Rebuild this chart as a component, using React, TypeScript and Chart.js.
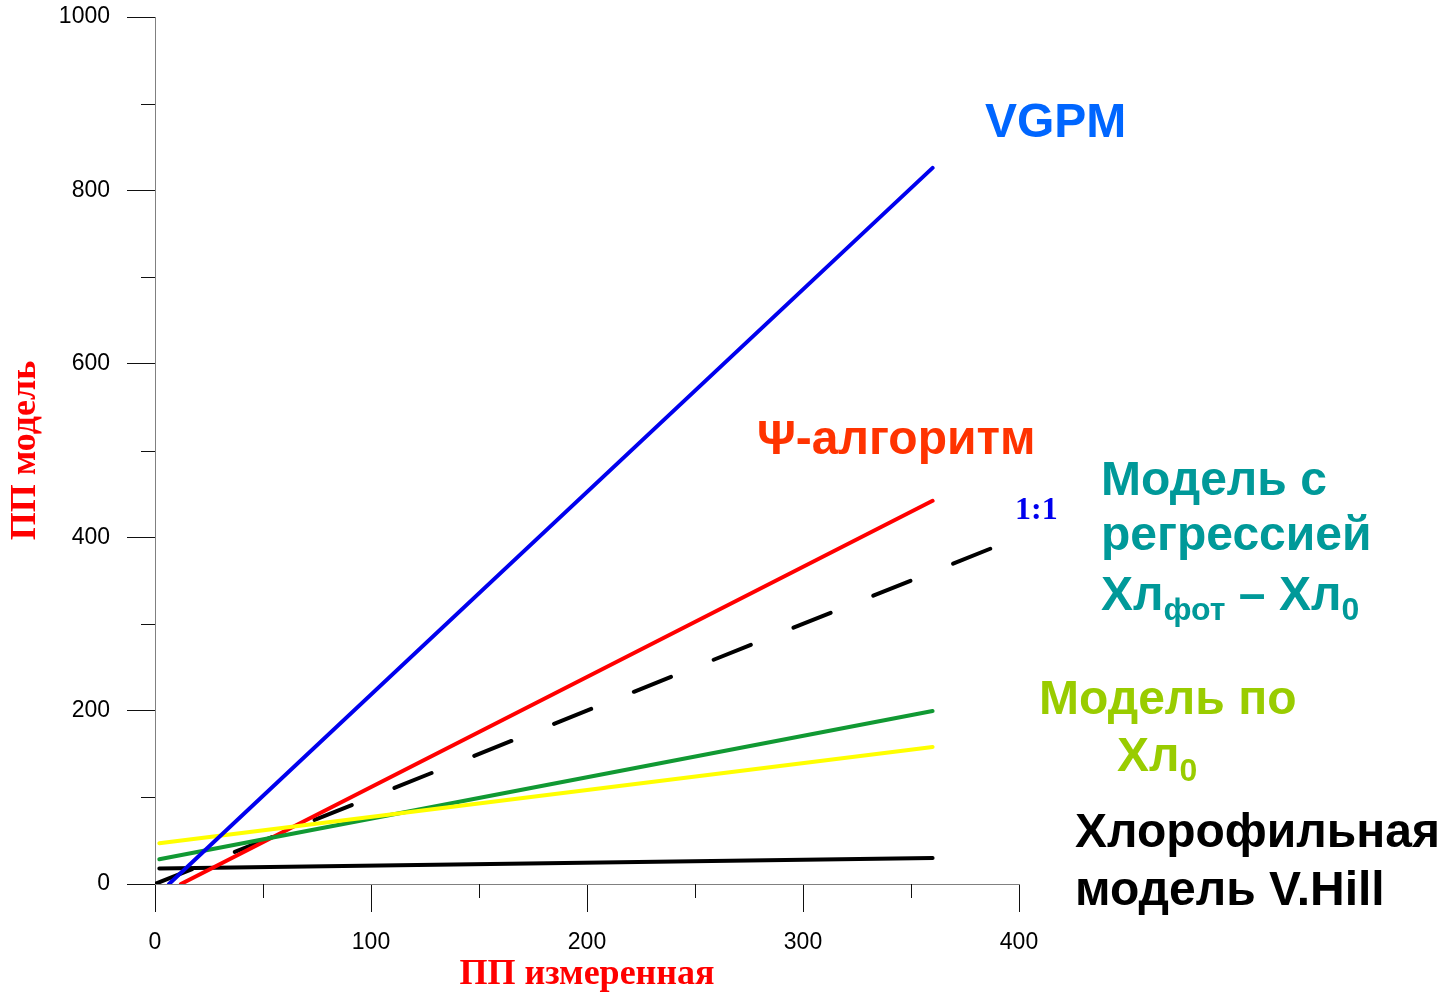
import React, { useEffect, useRef } from 'react';
import { Chart, registerables } from 'chart.js';

Chart.register(...registerables);

// ---- data ----
const xTickStep = 100;
const yTickStep = 200;
const xMin = 0, xMax = 400;
const yMin = 0, yMax = 1000;
const xMinorTicks = [50, 150, 250, 350];
const yMinorTicks = [100, 300, 500, 700, 900];

const vgpmX = [6.5, 360];
const vgpmY = [0, 826];
const psiX = [12, 360];
const psiY = [0, 442];
const regrX = [2, 360];
const regrY = [28.5, 199.5];
const chl0X = [2, 360];
const chl0Y = [47, 158];
const hillX = [2, 360];
const hillY = [18, 30];
const oneToOneX = [0, 392];
const oneToOneY = [0, 392];

const xTitle = 'ПП измеренная';
const yTitle = 'ПП модель';

const SANS = '"Liberation Sans", Arial, sans-serif';
const SERIF = '"Liberation Serif", "Times New Roman", serif';

type Seg = { text: string; sub?: boolean };
type Note = { segs: Seg[]; x: number; y: number; size: number; color: string; family: string };

const notes: Note[] = [
  { segs: [{ text: 'VGPM' }], x: 985, y: 137, size: 48, color: '#0066ff', family: SANS },
  { segs: [{ text: 'Ψ-алгоритм' }], x: 757, y: 454, size: 48, color: '#ff3300', family: SANS },
  { segs: [{ text: '1:1' }], x: 1015, y: 519, size: 32, color: '#0000ee', family: SERIF },
  { segs: [{ text: 'Модель с' }], x: 1101, y: 495, size: 48, color: '#009999', family: SANS },
  { segs: [{ text: 'регрессией' }], x: 1101, y: 550, size: 48, color: '#009999', family: SANS },
  {
    segs: [{ text: 'Хл' }, { text: 'фот', sub: true }, { text: ' – Хл' }, { text: '0', sub: true }],
    x: 1101, y: 610, size: 48, color: '#009999', family: SANS,
  },
  { segs: [{ text: 'Модель по' }], x: 1039, y: 714, size: 48, color: '#99cc00', family: SANS },
  { segs: [{ text: 'Хл' }, { text: '0', sub: true }], x: 1117, y: 771, size: 48, color: '#99cc00', family: SANS },
  { segs: [{ text: 'Хлорофильная' }], x: 1075, y: 847, size: 48, color: '#000000', family: SANS },
  { segs: [{ text: 'модель V.Hill' }], x: 1075, y: 905, size: 48, color: '#000000', family: SANS },
];

const pts = (xs: number[], ys: number[]) => xs.map((x, i) => ({ x, y: ys[i] }));

const extrasPlugin = {
  id: 'extras',
  afterDraw(chart: any) {
    const ctx = chart.ctx;
    const xs = chart.scales.x;
    const ys = chart.scales.y;
    ctx.save();
    // minor ticks
    ctx.strokeStyle = '#111';
    ctx.lineWidth = 1;
    ctx.beginPath();
    xMinorTicks.forEach((v) => {
      const px = Math.round(xs.getPixelForValue(v)) + 0.5;
      ctx.moveTo(px, ys.bottom);
      ctx.lineTo(px, ys.bottom + 14);
    });
    yMinorTicks.forEach((v) => {
      const py = Math.round(ys.getPixelForValue(v)) + 0.5;
      ctx.moveTo(xs.left - 14, py);
      ctx.lineTo(xs.left, py);
    });
    ctx.stroke();
    // annotations
    ctx.textAlign = 'left';
    ctx.textBaseline = 'alphabetic';
    notes.forEach((n) => {
      let x = n.x;
      n.segs.forEach((s) => {
        const size = s.sub ? Math.round(n.size * 0.66) : n.size;
        ctx.font = `bold ${size}px ${n.family}`;
        ctx.fillStyle = n.color;
        ctx.fillText(s.text, x, n.y + (s.sub ? Math.round(n.size * 0.2) : 0));
        x += ctx.measureText(s.text).width;
      });
    });
    ctx.restore();
  },
};

export default function App() {
  const ref = useRef<HTMLCanvasElement | null>(null);
  useEffect(() => {
    if (!ref.current) return;
    const line = (label: string, data: any, color: string, extra: any = {}) => ({
      label,
      data,
      borderColor: color,
      backgroundColor: color,
      borderWidth: 4,
      pointRadius: 0,
      showLine: true,
      fill: false,
      tension: 0,
      borderCapStyle: 'round',
      ...extra,
    });
    const chart = new Chart(ref.current, {
      type: 'scatter',
      data: {
        datasets: [
          line('VGPM', pts(vgpmX, vgpmY), '#0000ee'),
          line('Модель по Хл0', pts(chl0X, chl0Y), '#ffff00'),
          line('Модель с регрессией', pts(regrX, regrY), '#119933'),
          line('Ψ-алгоритм', pts(psiX, psiY), '#ff0000'),
          line('Хлорофильная модель V.Hill', pts(hillX, hillY), '#000000'),
          line('1:1', pts(oneToOneX, oneToOneY), '#000000', { borderDash: [40, 46], borderWidth: 4 }),
        ],
      },
      options: {
        animation: false,
        responsive: true,
        maintainAspectRatio: false,
        layout: { padding: { top: 17, right: 424, left: 0, bottom: 0 } },
        plugins: { legend: { display: false }, tooltip: { enabled: false } },
        scales: {
          x: {
            type: 'linear',
            min: xMin,
            max: xMax,
            afterFit: (s: any) => { s.height = 110; },
            ticks: { stepSize: xTickStep, color: '#000', font: { family: SANS, size: 23 }, padding: 17, maxRotation: 0, callback: (v: any) => String(v) },
            grid: { drawOnChartArea: false, drawTicks: true, tickLength: 28, color: '#111', lineWidth: 1 },
            border: { display: true, color: '#808080', width: 1 },
            title: { display: true, text: xTitle, color: '#ff0000', font: { family: SERIF, size: 36, weight: 'bold', lineHeight: 1 }, padding: { top: 0, bottom: 1 } },
          },
          y: {
            type: 'linear',
            min: yMin,
            max: yMax,
            afterFit: (s: any) => { s.width = 155; s.paddingTop = 0; s.paddingBottom = 0; },
            ticks: { stepSize: yTickStep, color: '#000', font: { family: SANS, size: 23 }, padding: 17, callback: (v: any) => String(v) },
            grid: { drawOnChartArea: false, drawTicks: true, tickLength: 28, color: '#111', lineWidth: 1 },
            border: { display: true, color: '#808080', width: 1 },
            title: { display: true, text: yTitle, color: '#ff0000', font: { family: SERIF, size: 36, weight: 'bold', lineHeight: 1 }, padding: { top: 8, bottom: 0 } },
          },
        },
      },
      plugins: [extrasPlugin],
    } as any);
    return () => chart.destroy();
  }, []);
  return (
    <div style={{ position: 'fixed', left: 0, top: 0, width: 1443, height: 994, background: '#fff' }}>
      <canvas ref={ref} />
    </div>
  );
}
